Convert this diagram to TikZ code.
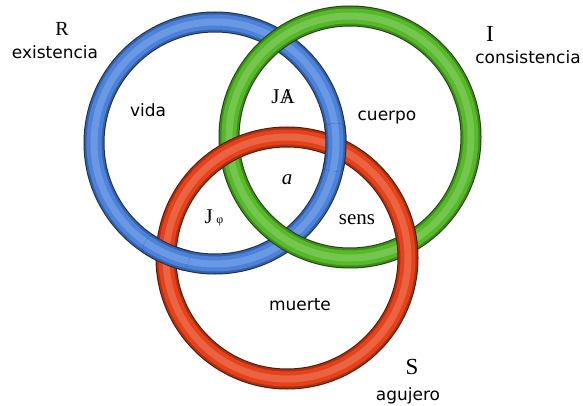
\documentclass[tikz,border=0pt]{standalone}
\usepackage{fontspec}
\setmainfont{Liberation Serif}
\setsansfont{DejaVu Sans}
\usepackage{tikz}
\usetikzlibrary{intersections}

\definecolor{ringblue}{RGB}{75,130,220}
\definecolor{ringgreen}{RGB}{85,185,40}
\definecolor{ringred}{RGB}{230,65,25}

\begin{document}
\begin{tikzpicture}[x=1pt, y=1pt,
    ring/.style = {line width=21pt, draw=#1!35!black,
        postaction={draw=#1!75!black, line width=19pt},
        postaction={draw=#1, line width=15pt},
        postaction={draw=#1!82!white, line width=7pt}},
    word/.style = {font=\sffamily\fontsize{17}{19}\selectfont},
    sym/.style = {font=\fontsize{21}{23}\selectfont},
    big/.style = {font=\fontsize{23}{25}\selectfont}]
    \useasboundingbox (0,0) rectangle (583,405);
    \coordinate (B) at (215,262);
    \coordinate (G) at (350,268);
    \coordinate (R) at (287,147);

    % the three rings
    \draw[ring=ringblue, name path=pb] (B) circle (121pt);
    \draw[ring=ringgreen] (G) circle (121pt);
    \draw[ring=ringred, name path=pr] (R) circle (121pt);
    % blue passes over red
    \path[name intersections={of=pb and pr, name=br}];
    \foreach \k in {1,2} {
        \begin{scope}
            \clip (br-\k) circle (24pt);
            \draw[ring=ringblue] (B) circle (121pt);
        \end{scope}
    }

    \node[big, font=\fontsize{20}{22}\selectfont] (Rl) at (62,376) {R};
    \node[word] (exist) at (55,353) {existencia};
    \node[big] (Il) at (490,371) {I};
    \node[word] (consis) at (528,348) {consistencia};
    \node[big] (Sl) at (412,38) {S};
    \node[word] (aguj) at (408,9) {agujero};

    \node[word] (vida) at (148,295) {vida};
    \node[word] (cuerpo) at (387,287) {cuerpo};
    \node[word] (muerte) at (300,100) {muerte};
    \node[sym] (JA) at (283,308) {J\ooalign{A\cr\hidewidth/\hidewidth}};
    \node[sym] (a) at (287,225) {\itshape a};
    \node[sym] (Jphi) at (214,187) {J\,{\fontsize{12}{12}\selectfont φ}};
    \node[sym] (sens) at (357,185) {sens};
\end{tikzpicture}
\end{document}
